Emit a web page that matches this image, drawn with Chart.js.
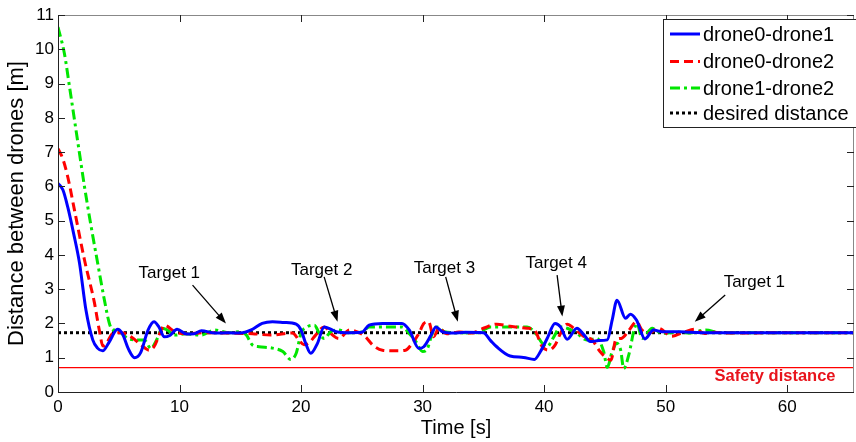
<!DOCTYPE html>
<html>
<head>
<meta charset="utf-8">
<script src="https://cdn.jsdelivr.net/npm/chart.js@4.4.1/dist/chart.umd.min.js"></script>
<style>
  html, body { margin: 0; padding: 0; background: #fff; }
  #wrap { width: 856px; height: 442px; position: relative; }
</style>
</head>
<body>
<div id="wrap"><canvas id="distanceChart"></canvas></div>
<script>
// Data (time in s, distance in m)
const timeD01 = [0, 0.4, 0.8, 1.3, 1.77, 2.3, 2.86, 3.25, 3.68, 4.2, 4.9, 5.3, 5.8, 6.3, 6.8, 7.4, 7.9, 8.3, 8.75, 9.2, 9.8, 10.6, 11.2, 11.8, 12.9, 14, 15, 15.9, 16.8, 17.65, 18.6, 19.6, 20, 20.4, 20.8, 21.35, 21.9, 22.9, 24, 25, 25.6, 26.7, 28.3, 28.9, 29.7, 30.1, 30.7, 31.1, 31.6, 32.5, 33.5, 35, 35.6, 36.1, 37.2, 38.3, 39.2, 39.7, 40.25, 40.9, 41.35, 41.9, 42.7, 43.3, 43.8, 44.5, 45.2, 45.6, 46, 46.7, 47.1, 47.6, 48.3, 49, 49.7, 51.1, 52, 53, 55, 60, 65.5];
const distD01 = [6.09, 5.9, 5.4, 4.6, 3.76, 2.39, 1.52, 1.28, 1.2, 1.45, 1.83, 1.7, 1.25, 1.0, 1.15, 1.8, 2.05, 1.9, 1.61, 1.65, 1.83, 1.69, 1.7, 1.79, 1.72, 1.73, 1.72, 1.81, 2.0, 2.05, 2.03, 1.98, 1.81, 1.4, 1.13, 1.42, 1.9, 1.76, 1.73, 1.74, 1.95, 2.0, 2.0, 1.81, 1.27, 1.32, 1.66, 1.9, 1.76, 1.72, 1.74, 1.73, 1.5, 1.32, 1.05, 1.01, 0.95, 1.18, 1.56, 2.0, 1.9, 1.54, 1.86, 1.66, 1.47, 1.5, 1.52, 2.1, 2.68, 2.15, 2.27, 2.1, 1.55, 1.81, 1.76, 1.76, 1.74, 1.73, 1.73, 1.73, 1.73];

const timeD02 = [0, 0.4, 0.8, 1.36, 2.18, 3.0, 3.4, 3.7, 4.0, 4.5, 5.2, 6.0, 6.85, 7.5, 7.9, 8.5, 8.75, 9.6, 10.5, 12, 14, 16, 17.5, 19.3, 19.85, 20.25, 20.7, 21.2, 21.9, 22.6, 23.1, 24, 24.8, 25.3, 25.9, 26.7, 27.8, 28.6, 29.15, 29.7, 30.1, 30.5, 30.9, 31.35, 32, 33, 34, 35, 36.1, 37.2, 38.6, 39.2, 39.85, 40.4, 40.9, 41.35, 41.9, 42.45, 43.3, 43.95, 44.6, 45.2, 45.5, 45.9, 46.4, 47, 47.6, 48.05, 48.6, 49.4, 50.5, 51.6, 52.4, 53.2, 54, 55, 60, 65.5];
const distD02 = [7.1, 6.8, 6.28, 5.3, 3.85, 2.6, 1.8, 1.34, 1.42, 1.71, 1.73, 1.61, 1.37, 1.22, 1.32, 1.81, 1.95, 1.76, 1.7, 1.73, 1.72, 1.7, 1.66, 1.72, 1.5, 1.38, 1.45, 1.66, 1.9, 1.66, 1.56, 1.81, 1.73, 1.61, 1.37, 1.22, 1.2, 1.22, 1.42, 1.71, 2.0, 2.05, 1.61, 1.86, 1.7, 1.75, 1.72, 1.86, 1.98, 1.92, 1.86, 1.81, 1.32, 1.22, 1.37, 1.71, 1.98, 1.86, 1.61, 1.52, 1.18, 0.98, 0.93, 1.52, 1.57, 1.81, 2.05, 1.81, 1.71, 1.86, 1.63, 1.76, 1.83, 1.71, 1.74, 1.72, 1.73, 1.73];

const timeD12 = [0, 0.53, 0.95, 1.36, 1.77, 2.18, 2.73, 3.27, 3.82, 4.23, 4.5, 4.8, 5.75, 6.55, 7.1, 7.65, 8.05, 8.6, 9.0, 9.6, 10.5, 11.8, 12.9, 14, 15.05, 15.5, 16, 16.55, 17.65, 18.5, 19.15, 19.6, 20, 20.5, 21.1, 21.5, 21.9, 22.45, 23, 24, 25, 25.6, 28.3, 28.9, 29.45, 30, 30.4, 30.8, 31.2, 31.8, 33, 34.5, 35.6, 38.6, 39.3, 39.85, 40.25, 40.8, 41.35, 41.9, 42.7, 43.5, 44.35, 44.9, 45.2, 45.6, 46, 46.3, 46.55, 47, 47.4, 47.65, 48.05, 48.9, 49.7, 51, 52, 53.3, 54.5, 60, 65.5];
const distD12 = [10.65, 9.87, 8.9, 7.93, 6.96, 5.99, 4.82, 3.75, 2.68, 2.0, 1.81, 1.81, 1.56, 1.52, 1.52, 1.27, 1.47, 1.86, 1.81, 1.66, 1.7, 1.66, 1.81, 1.73, 1.76, 1.66, 1.37, 1.32, 1.28, 1.18, 0.95, 1.13, 1.71, 1.9, 1.95, 1.71, 1.56, 1.76, 1.81, 1.73, 1.75, 1.9, 1.9, 1.71, 1.47, 1.18, 1.27, 1.71, 1.9, 1.76, 1.73, 1.73, 1.9, 1.9, 1.71, 1.42, 1.32, 1.61, 1.9, 1.86, 1.71, 1.52, 1.56, 1.18, 0.72, 1.18, 1.42, 1.22, 0.69, 1.13, 1.81, 2.0, 1.56, 1.86, 1.71, 1.75, 1.72, 1.81, 1.73, 1.73, 1.73];

const timeRange = [0, 65.5];
const desiredDistance = 1.73;
const safetyDistance = 0.71;
const xTicks = [0, 10, 20, 30, 40, 50, 60];
const yTicks = [0, 1, 2, 3, 4, 5, 6, 7, 8, 9, 10, 11];

function toPoints(ts, vs) {
    return ts.map((t, i) => ({ x: t, y: vs[i] }));
}

const FONT = "'Liberation Sans', Arial, sans-serif";

// Annotation text + arrows, given in data units
const notes = [
    { text: 'Target 1', tx: 9.16, ty: 3.47, from: [11.07, 3.12], to: [13.82, 2.0] },
    { text: 'Target 2', tx: 21.7, ty: 3.56, from: [21.9, 3.36], to: [23.0, 2.05] },
    { text: 'Target 3', tx: 31.8, ty: 3.62, from: [31.9, 3.36], to: [32.9, 2.05] },
    { text: 'Target 4', tx: 41.0, ty: 3.76, from: [41.07, 3.41], to: [41.5, 2.2] },
    { text: 'Target 1', tx: 57.3, ty: 3.21, from: [54.9, 2.83], to: [52.4, 2.05] }
];

function drawArrow(ctx, x1, y1, x2, y2) {
    const ang = Math.atan2(y2 - y1, x2 - x1);
    const headLen = 11, headW = 4;
    ctx.beginPath();
    ctx.moveTo(x1, y1);
    ctx.lineTo(x2 - Math.cos(ang) * headLen * 0.8, y2 - Math.sin(ang) * headLen * 0.8);
    ctx.stroke();
    ctx.beginPath();
    ctx.moveTo(x2, y2);
    ctx.lineTo(x2 - Math.cos(ang) * headLen + Math.sin(ang) * headW, y2 - Math.sin(ang) * headLen - Math.cos(ang) * headW);
    ctx.lineTo(x2 - Math.cos(ang) * headLen - Math.sin(ang) * headW, y2 - Math.sin(ang) * headLen + Math.cos(ang) * headW);
    ctx.closePath();
    ctx.fill();
}

const matlabLook = {
    id: 'matlabLook',
    afterDraw(chart) {
        const { ctx, chartArea: a, scales: { x, y } } = chart;
        ctx.save();

        // box + inward ticks
        ctx.strokeStyle = '#222';
        ctx.lineWidth = 1;
        ctx.beginPath();
        ctx.moveTo(a.left + 0.5, a.top);
        ctx.lineTo(a.left + 0.5, a.bottom + 0.5);
        ctx.lineTo(a.right, a.bottom + 0.5);
        ctx.stroke();
        ctx.strokeStyle = '#888';
        ctx.beginPath();
        ctx.moveTo(a.left, a.top + 0.5);
        ctx.lineTo(a.right, a.top + 0.5);
        ctx.moveTo(a.right - 0.5, a.top);
        ctx.lineTo(a.right - 0.5, a.bottom);
        ctx.stroke();
        ctx.strokeStyle = '#222';
        ctx.beginPath();
        xTicks.forEach(v => {
            const px = Math.round(x.getPixelForValue(v)) + 0.5;
            ctx.moveTo(px, a.bottom); ctx.lineTo(px, a.bottom - 7);
            ctx.moveTo(px, a.top); ctx.lineTo(px, a.top + 7);
        });
        yTicks.forEach(v => {
            const py = Math.round(y.getPixelForValue(v)) + 0.5;
            ctx.moveTo(a.left, py); ctx.lineTo(a.left + 7, py);
            ctx.moveTo(a.right, py); ctx.lineTo(a.right - 7, py);
        });
        ctx.stroke();

        // target notes
        ctx.fillStyle = '#000';
        ctx.strokeStyle = '#000';
        ctx.lineWidth = 1.3;
        ctx.font = '17px ' + FONT;
        ctx.textAlign = 'center';
        ctx.textBaseline = 'middle';
        notes.forEach(n => {
            ctx.fillText(n.text, x.getPixelForValue(n.tx), y.getPixelForValue(n.ty));
            drawArrow(ctx,
                x.getPixelForValue(n.from[0]), y.getPixelForValue(n.from[1]),
                x.getPixelForValue(n.to[0]), y.getPixelForValue(n.to[1]));
        });

        // safety label
        ctx.fillStyle = '#e8141c';
        ctx.font = 'bold 16.5px ' + FONT;
        ctx.fillText('Safety distance', x.getPixelForValue(59.0), y.getPixelForValue(0.44));

        // legend box
        const lx = 663, ly = 19, lw = 200, lh = 108;
        ctx.fillStyle = '#fff';
        ctx.fillRect(lx, ly, lw, lh);
        ctx.strokeStyle = '#222';
        ctx.lineWidth = 1;
        ctx.strokeRect(lx + 0.5, ly + 0.5, lw, lh);
        ctx.font = '20px ' + FONT;
        ctx.textAlign = 'left';
        const rows = [34, 61.5, 88, 113];
        chart.data.datasets.slice(0, 4).forEach((ds, i) => {
            const ry = rows[i];
            ctx.strokeStyle = ds.borderColor;
            ctx.lineWidth = ds.borderWidth;
            ctx.setLineDash(ds.borderDash || []);
            ctx.beginPath();
            ctx.moveTo(670, ry);
            ctx.lineTo(700, ry);
            ctx.stroke();
            ctx.setLineDash([]);
            ctx.fillStyle = '#000';
            ctx.fillText(ds.label, 703, ry + 1);
        });
        ctx.restore();
    }
};

const ctx = document.getElementById('distanceChart').getContext('2d');
new Chart(ctx, {
    type: 'line',
    data: {
        datasets: [{
            label: 'drone0-drone1',
            data: toPoints(timeD01, distD01),
            borderColor: '#0000ff',
            borderWidth: 3,
            cubicInterpolationMode: 'monotone'
        }, {
            label: 'drone0-drone2',
            data: toPoints(timeD02, distD02),
            borderColor: '#ff0000',
            borderWidth: 3,
            borderDash: [9, 5],
            cubicInterpolationMode: 'monotone'
        }, {
            label: 'drone1-drone2',
            data: toPoints(timeD12, distD12),
            borderColor: '#00e600',
            borderWidth: 3,
            borderDash: [10, 4, 3, 4],
            cubicInterpolationMode: 'monotone'
        }, {
            label: 'desired distance',
            data: timeRange.map(t => ({ x: t, y: desiredDistance })),
            borderColor: '#000',
            borderWidth: 3,
            borderDash: [3, 3]
        }, {
            label: 'safety distance',
            data: timeRange.map(t => ({ x: t, y: safetyDistance })),
            borderColor: '#ff0000',
            borderWidth: 1.3
        }]
    },
    options: {
        responsive: true,
        maintainAspectRatio: false,
        animation: false,
        events: [],
        elements: { point: { radius: 0 } },
        layout: { padding: { top: 15, right: 2, left: 0, bottom: 0 } },
        plugins: { legend: { display: false }, tooltip: { enabled: false } },
        scales: {
            x: {
                type: 'linear',
                min: timeRange[0],
                max: timeRange[1],
                grid: { display: false, drawTicks: false },
                border: { display: false },
                ticks: {
                    stepSize: 10,
                    includeBounds: false,
                    padding: 5,
                    color: '#000',
                    font: { family: FONT, size: 17 }
                },
                title: {
                    display: true,
                    text: 'Time [s]',
                    color: '#000',
                    font: { family: FONT, size: 20 },
                    padding: { top: 0, bottom: 2 }
                },
                afterFit(scale) { scale.height = 50; }
            },
            y: {
                min: 0,
                max: 11,
                grid: { display: false, drawTicks: false },
                border: { display: false },
                ticks: {
                    stepSize: 1,
                    padding: 4,
                    color: '#000',
                    font: { family: FONT, size: 17 }
                },
                title: {
                    display: true,
                    text: 'Distance between drones [m]',
                    color: '#000',
                    font: { family: FONT, size: 22 },
                    padding: { top: 4, bottom: 0 }
                },
                afterFit(scale) { scale.width = 58; }
            }
        }
    },
    plugins: [matlabLook]
});
</script>
</body>
</html>
